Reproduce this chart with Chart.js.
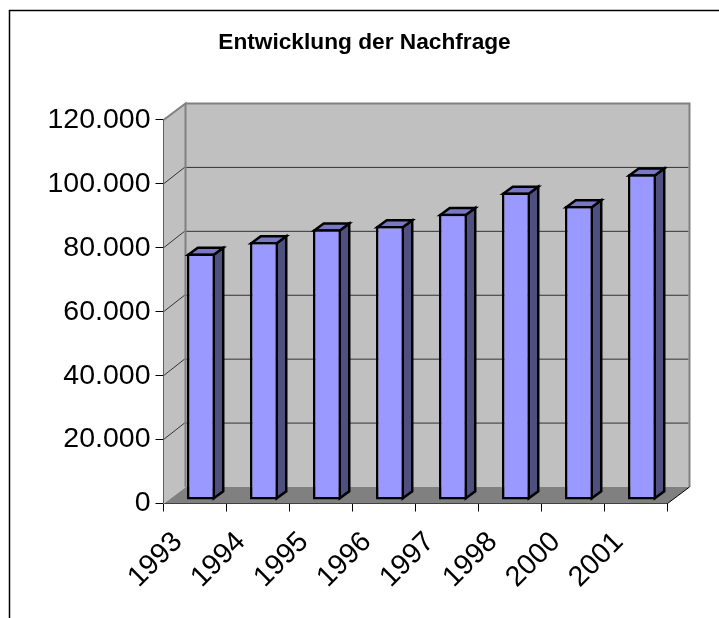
<!DOCTYPE html>
<html>
<head>
<meta charset="utf-8">
<title>Entwicklung der Nachfrage</title>
<script src="https://cdn.jsdelivr.net/npm/chart.js@4"></script>
<style>
html, body { margin: 0; padding: 0; background: #fff; }
#wrap { width: 719px; height: 618px; }
</style>
</head>
<body>
<div id="wrap"><canvas id="chart" width="719" height="618"></canvas></div>
<script>
var years = ['1993', '1994', '1995', '1996', '1997', '1998', '2000', '2001'];
var nachfrage = [77100, 80700, 84700, 85700, 89600, 96200, 92000, 101900];
var yTickLabels = ['0', '20.000', '40.000', '60.000', '80.000', '100.000', '120.000'];

var FONT = '"Liberation Sans", Arial, sans-serif';
var BAR_LINE = 2.5;
// depth of the room and of the bars, in pixels
var wallDepth = { x: 22, y: 16.5 };
var barDepth = { x: 9.5, y: 7 };
var barShift = { x: 6, y: 3.5 };

function poly(ctx, points, fill, stroke, lineWidth) {
    ctx.beginPath();
    points.forEach(function (p, i) {
        if (i === 0) ctx.moveTo(p[0], p[1]);
        else ctx.lineTo(p[0], p[1]);
    });
    ctx.closePath();
    if (fill) {
        ctx.fillStyle = fill;
        ctx.fill();
    }
    if (stroke) {
        ctx.strokeStyle = stroke;
        ctx.lineWidth = lineWidth;
        ctx.lineJoin = 'miter';
        ctx.stroke();
    }
}

var room = {
    id: 'room',
    // the title is centred on the frame, not on the axis box
    afterLayout: function (chart) {
        chart.titleBlock.left = 10;
        chart.titleBlock.right = 719;
    },
    beforeDraw: function (chart) {
        var ctx = chart.ctx;
        // page frame: only the top and left lines are in the picture
        ctx.save();
        ctx.fillStyle = '#fff';
        ctx.fillRect(0, 0, chart.width, chart.height);
        ctx.strokeStyle = '#000';
        ctx.lineWidth = 1.5;
        ctx.beginPath();
        ctx.moveTo(719, 10.5);
        ctx.lineTo(9.5, 10.5);
        ctx.lineTo(9.5, 618);
        ctx.stroke();
        ctx.restore();
    },
    beforeDatasetsDraw: function (chart) {
        var ctx = chart.ctx;
        var a = chart.chartArea;
        var dx = wallDepth.x, dy = wallDepth.y;
        var y = chart.scales.y;
        ctx.save();
        // back wall, side wall, floor
        poly(ctx, [[a.left + dx, a.top - dy], [a.right + dx, a.top - dy], [a.right + dx, a.bottom - dy], [a.left + dx, a.bottom - dy]], '#c0c0c0');
        poly(ctx, [[a.left, a.top], [a.left + dx, a.top - dy], [a.left + dx, a.bottom - dy], [a.left, a.bottom]], '#c0c0c0');
        poly(ctx, [[a.left, a.bottom], [a.left + dx, a.bottom - dy], [a.right + dx, a.bottom - dy], [a.right, a.bottom]], '#808080');
        // grid lines run over the side wall and along the back wall
        y.ticks.forEach(function (t) {
            if (t.value === 0 || t.value === y.max) return;
            var py = y.getPixelForValue(t.value);
            ctx.strokeStyle = '#333';
            ctx.lineWidth = 1;
            ctx.beginPath();
            ctx.moveTo(a.left, py);
            ctx.lineTo(a.left + dx - 1, py - dy);
            ctx.lineTo(a.right + dx - 1, py - dy);
            ctx.stroke();
        });
        // grey edges of the walls
        ctx.strokeStyle = '#808080';
        ctx.lineWidth = 2;
        ctx.beginPath();
        ctx.moveTo(a.left, a.top);
        ctx.lineTo(a.left + dx, a.top - dy);
        ctx.lineTo(a.left + dx, a.bottom - dy);
        ctx.moveTo(a.left + dx, a.top - dy);
        ctx.lineTo(a.right + dx, a.top - dy);
        ctx.lineTo(a.right + dx, a.bottom - dy);
        ctx.stroke();
        ctx.strokeStyle = '#c0c0c0';
        ctx.lineWidth = 1;
        ctx.beginPath();
        ctx.moveTo(a.left, a.bottom);
        ctx.lineTo(a.left + dx, a.bottom - dy);
        ctx.stroke();
        ctx.strokeStyle = '#000';
        ctx.beginPath();
        ctx.moveTo(a.right, a.bottom);
        ctx.lineTo(a.right + dx, a.bottom - dy);
        ctx.stroke();
        ctx.restore();
    },
    // the bars stand a little inside the room, so shift them while the library draws
    beforeDatasetDraw: function (chart, args) {
        var ctx = chart.ctx;
        var inset = BAR_LINE / 2;
        ctx.save();
        ctx.translate(barShift.x, -barShift.y);
        args.meta.data.forEach(function (bar) {
            var p = bar.getProps(['x', 'y', 'base', 'width'], true);
            var l = p.x - p.width / 2 + inset, r = p.x + p.width / 2 - inset;
            var t = p.y + inset, b = p.base - inset;
            var dx = barDepth.x, dy = barDepth.y;
            poly(ctx, [[r, t], [r + dx, t - dy], [r + dx, b - dy], [r, b]], '#505080', '#000', BAR_LINE);
            poly(ctx, [[l, t], [l + dx, t - dy], [r + dx, t - dy], [r, t]], '#7878c4', '#000', BAR_LINE);
        });
    },
    afterDatasetDraw: function (chart) {
        chart.ctx.restore();
    }
};

new Chart(document.getElementById('chart'), {
    type: 'bar',
    data: {
        labels: years,
        datasets: [{
            label: 'Nachfrage',
            data: nachfrage,
            backgroundColor: '#9999ff',
            borderColor: '#000',
            borderWidth: BAR_LINE,
            borderSkipped: false,
            barPercentage: 0.444,
            categoryPercentage: 1,
            clip: false
        }]
    },
    options: {
        responsive: false,
        animation: false,
        layout: { padding: { left: 0, right: 51.5, top: 0, bottom: 0 } },
        plugins: {
            legend: { display: false },
            tooltip: { enabled: false },
            title: {
                display: true,
                text: 'Entwicklung der Nachfrage',
                color: '#000',
                font: { family: FONT, size: 22.7, weight: 'bold', lineHeight: 1.2 },
                padding: { top: 29.5, bottom: 63.26 }
            }
        },
        scales: {
            x: {
                afterFit: function (scale) { scale.height = 114.5; },
                grid: { drawOnChartArea: false, color: '#000', tickLength: 8, tickColor: '#000' },
                border: { color: '#000' },
                ticks: {
                    color: '#000',
                    font: { family: FONT, size: 28.5 },
                    minRotation: 45,
                    maxRotation: 45,
                    autoSkip: false,
                    padding: 14,
                    labelOffset: -17
                }
            },
            y: {
                min: 0,
                max: 120000,
                afterFit: function (scale) { scale.width = 163.5; },
                afterBuildTicks: function (scale) {
                    scale.ticks = yTickLabels.map(function (label, i) { return { value: i * 20000 }; });
                },
                grid: { drawOnChartArea: false, color: '#000', tickLength: 8 },
                border: { color: '#000' },
                ticks: {
                    color: '#000',
                    font: { family: FONT, size: 28.5 },
                    padding: 5,
                    callback: function (value, index) { return yTickLabels[index]; }
                }
            }
        }
    },
    plugins: [room]
});
</script>
</body>
</html>
